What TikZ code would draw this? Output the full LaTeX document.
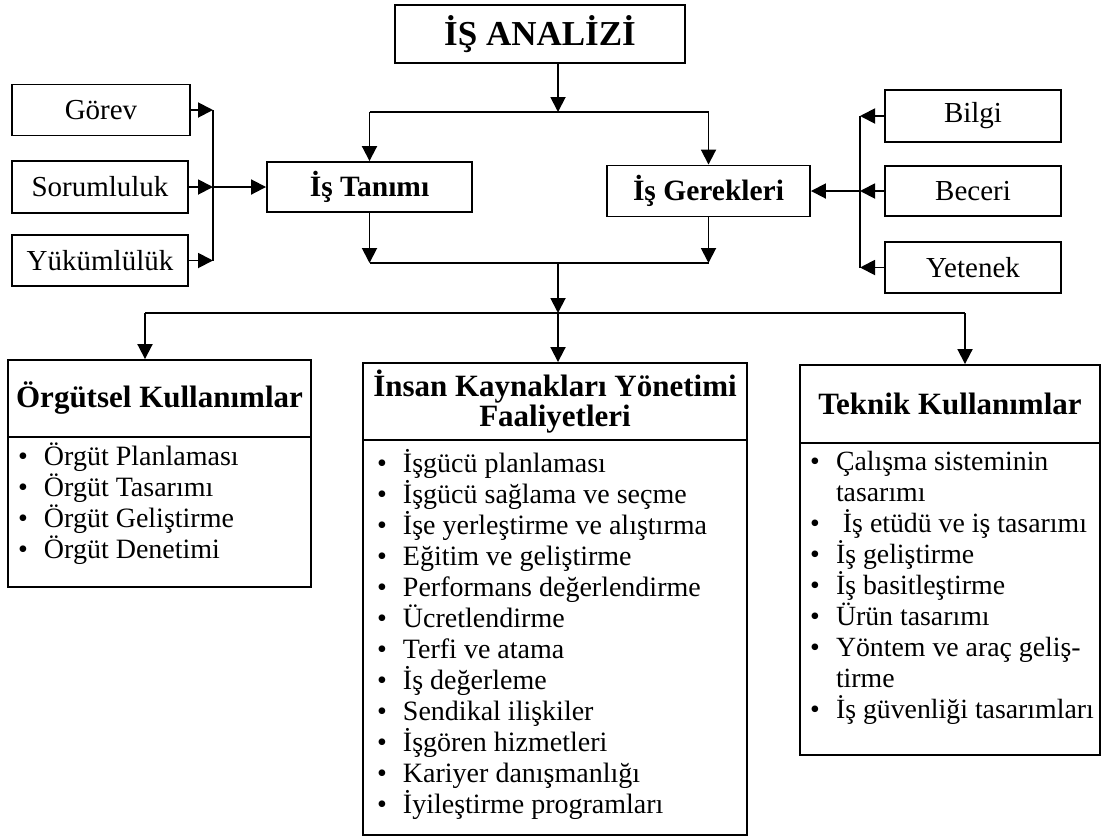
\documentclass[tikz,border=0pt]{standalone}
\usepackage{fontspec}
\setmainfont{Liberation Serif}
\usetikzlibrary{arrows.meta,calc}
\newcommand\itm[1]{\makebox[26pt][l]{•}#1}
\newcommand\cont[1]{\hspace*{26pt}#1}
\begin{document}
\begin{tikzpicture}[x=1pt,y=-1pt,
  line width=1.9pt,
  arr/.style={-{Triangle[width=15pt,length=15pt]}},
  box/.style={draw, rectangle, inner sep=0pt, font=\fontsize{29}{31}\selectfont},
  midbox/.style={box, font=\bfseries\fontsize{29.5}{31}\selectfont},
  headbox/.style={box, align=center, font=\bfseries\fontsize{31}{30}\selectfont},
  listtext/.style={inner sep=0pt, align=left, anchor=north west, font=\fontsize{28}{31}\selectfont}
]
\useasboundingbox (0,0) rectangle (1107,839);

% top level
\node[box, minimum width=290, minimum height=58, font=\bfseries\fontsize{35}{35}\selectfont] (title) at (540,34) {İŞ ANALİZİ};
\node[midbox, minimum width=205, minimum height=50] (tanim) at (369.5,187) {İş Tanımı};
\node[midbox, minimum width=203, minimum height=51] (gerek) at (708.5,191) {İş Gerekleri};

% left inputs
\node[box, minimum width=178, minimum height=51] (gorev) at (101,110) {Görev};
\node[box, minimum width=176, minimum height=52] (sorum) at (100,187) {Sorumluluk};
\node[box, minimum width=176, minimum height=51] (yukum) at (100,260.5) {Yükümlülük};

% right inputs
\node[box, minimum width=176, minimum height=52] (bilgi) at (973,116) {Bilgi};
\node[box, minimum width=176, minimum height=50] (beceri) at (973,191) {Beceri};
\node[box, minimum width=176, minimum height=51] (yetenek) at (973,267.5) {Yetenek};

% bottom blocks: header + body
\node[headbox, minimum width=303, minimum height=77] (orgH) at (159.5,398.5) {Örgütsel Kullanımlar};
\node[box, minimum width=303, minimum height=150] (orgB) at (159.5,512) {};
\node[headbox, minimum width=384, minimum height=77] (ikH) at (555,401.5) {İnsan Kaynakları Yönetimi\\Faaliyetleri};
\node[box, minimum width=384, minimum height=395] (ikB) at (555,637.5) {};
\node[headbox, minimum width=300, minimum height=78] (tekH) at (950,404) {Teknik Kullanımlar};
\node[box, minimum width=300, minimum height=312] (tekB) at (950,599) {};

\node[listtext] (orgL) at ($(orgB.north west)+(10,6)$) {%
\itm{Örgüt Planlaması}\\
\itm{Örgüt Tasarımı}\\
\itm{Örgüt Geliştirme}\\
\itm{Örgüt Denetimi}};

\node[listtext] (ikL) at ($(ikB.north west)+(14,9)$) {%
\itm{İşgücü planlaması}\\
\itm{İşgücü sağlama ve seçme}\\
\itm{İşe yerleştirme ve alıştırma}\\
\itm{Eğitim ve geliştirme}\\
\itm{Performans değerlendirme}\\
\itm{Ücretlendirme}\\
\itm{Terfi ve atama}\\
\itm{İş değerleme}\\
\itm{Sendikal ilişkiler}\\
\itm{İşgören hizmetleri}\\
\itm{Kariyer danışmanlığı}\\
\itm{İyileştirme programları}};

\node[listtext, font=\fontsize{27.8}{31}\selectfont] (tekL) at ($(tekB.north west)+(10,8)$) {%
\itm{Çalışma sisteminin}\\
\cont{tasarımı}\\
\itm{\hspace{7pt}İş etüdü ve iş tasarımı}\\
\itm{İş geliştirme}\\
\itm{İş basitleştirme}\\
\itm{Ürün tasarımı}\\
\itm{Yöntem ve araç geliş-}\\
\cont{tirme}\\
\itm{İş güvenliği tasarımları}};

% junction points
\coordinate (j1) at (558,112);
\coordinate (j2) at (558,263);
\coordinate (j3) at (558,313);
\coordinate (jl) at (145,313);
\coordinate (jr) at (965,313);
\coordinate (lb) at (213,187);
\coordinate (rb) at (860,191);

% analysis splits into description and requirements
\draw[arr] (title.south -| j1) -- (j1);
\draw (j1 -| tanim) -- (j1 -| gerek);
\draw[arr] (j1 -| tanim) -- (tanim.north);
\draw[arr] (j1 -| gerek) -- (gerek.north);

% both merge and feed the three uses
\draw[arr] (tanim.south) -- (tanim.south |- j2);
\draw[arr] (gerek.south) -- (gerek.south |- j2);
\draw (j2 -| tanim) -- (j2 -| gerek);
\draw[arr] (j2) -- (j3);
\draw (jl) -- (jr);
\draw[arr] (jl) -- (jl |- orgH.north);
\draw[arr] (j3) -- (j3 |- ikH.north);
\draw[arr] (jr) -- (jr |- tekH.north);

% left bus
\draw[arr] (gorev.east) -- (gorev.east -| lb);
\draw[arr] (sorum.east) -- (lb);
\draw[arr] (yukum.east) -- (yukum.east -| lb);
\draw (gorev.east -| lb) -- (yukum.east -| lb);
\draw[arr] (lb) -- (tanim.west);

% right bus
\draw[arr] (bilgi.west) -- (bilgi.west -| rb);
\draw[arr] (beceri.west) -- (rb);
\draw[arr] (yetenek.west) -- (yetenek.west -| rb);
\draw (bilgi.west -| rb) -- (yetenek.west -| rb);
\draw[arr] (rb) -- (gerek.east);
\end{tikzpicture}
\end{document}
